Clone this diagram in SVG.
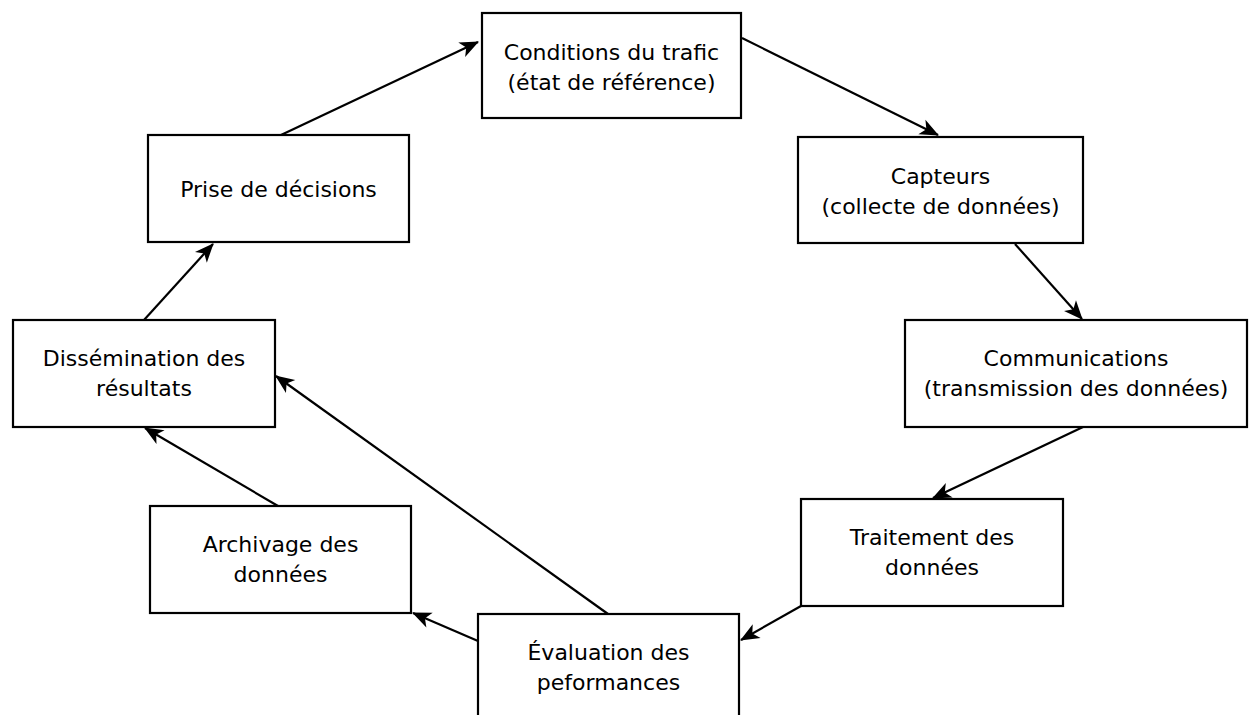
<svg xmlns="http://www.w3.org/2000/svg" width="1249" height="715" viewBox="0 0 1249 715">
  <style>
    .box rect { fill: #fff; stroke: #000; stroke-width: 2.2; }
    .box text { font-family: "DejaVu Sans", "Liberation Sans", sans-serif; font-size: 22px; fill: #000; text-anchor: middle; }
    .edge { fill: none; stroke: #000; stroke-width: 2.2; marker-end: url(#arrow); }
  </style>
  <defs>
    <marker id="arrow" markerUnits="userSpaceOnUse" viewBox="-20 -10 22 20" refX="0" refY="0" markerWidth="22" markerHeight="20" orient="auto">
      <path d="M1,0 L-18,-8 L-13,0 L-18,8 Z" fill="#000"/>
    </marker>
  </defs>
  <rect width="1249" height="715" fill="#fff"/>

  <g id="connectors">
    <path class="edge" d="M281,135 L478,42"/>
    <path class="edge" d="M742,38 L938,135"/>
    <path class="edge" d="M1015,244 L1082,319"/>
    <path class="edge" d="M1083,427 L933,498"/>
    <path class="edge" d="M801,606 L741,640"/>
    <path class="edge" d="M478,641 L413,613"/>
    <path class="edge" d="M608,614 L276,376"/>
    <path class="edge" d="M278,506 L145,428"/>
    <path class="edge" d="M144,320 L213,244"/>
  </g>

  <g id="conditions" class="box">
    <rect x="482" y="13" width="259" height="105"/>
    <text x="611.5" y="59.5">Conditions du trafic</text>
    <text x="611.5" y="90">(état de référence)</text>
  </g>
  <g id="capteurs" class="box">
    <rect x="798" y="137" width="285" height="106"/>
    <text x="940.5" y="183.5">Capteurs</text>
    <text x="940.5" y="214">(collecte de données)</text>
  </g>
  <g id="communications" class="box">
    <rect x="905" y="320" width="342" height="107"/>
    <text x="1076" y="365.5">Communications</text>
    <text x="1076" y="396">(transmission des données)</text>
  </g>
  <g id="traitement" class="box">
    <rect x="801" y="499" width="262" height="107"/>
    <text x="932" y="544.5">Traitement des</text>
    <text x="932" y="575">données</text>
  </g>
  <g id="evaluation" class="box">
    <rect x="478" y="614" width="261" height="107"/>
    <text x="608.5" y="659.5">Évaluation des</text>
    <text x="608.5" y="690">peformances</text>
  </g>
  <g id="archivage" class="box">
    <rect x="150" y="506" width="261" height="107"/>
    <text x="280.5" y="551.5">Archivage des</text>
    <text x="280.5" y="582">données</text>
  </g>
  <g id="dissemination" class="box">
    <rect x="13" y="320" width="262" height="107"/>
    <text x="144" y="365.5">Dissémination des</text>
    <text x="144" y="396">résultats</text>
  </g>
  <g id="prise" class="box">
    <rect x="148" y="135" width="261" height="107"/>
    <text x="278.5" y="197">Prise de décisions</text>
  </g>
</svg>
